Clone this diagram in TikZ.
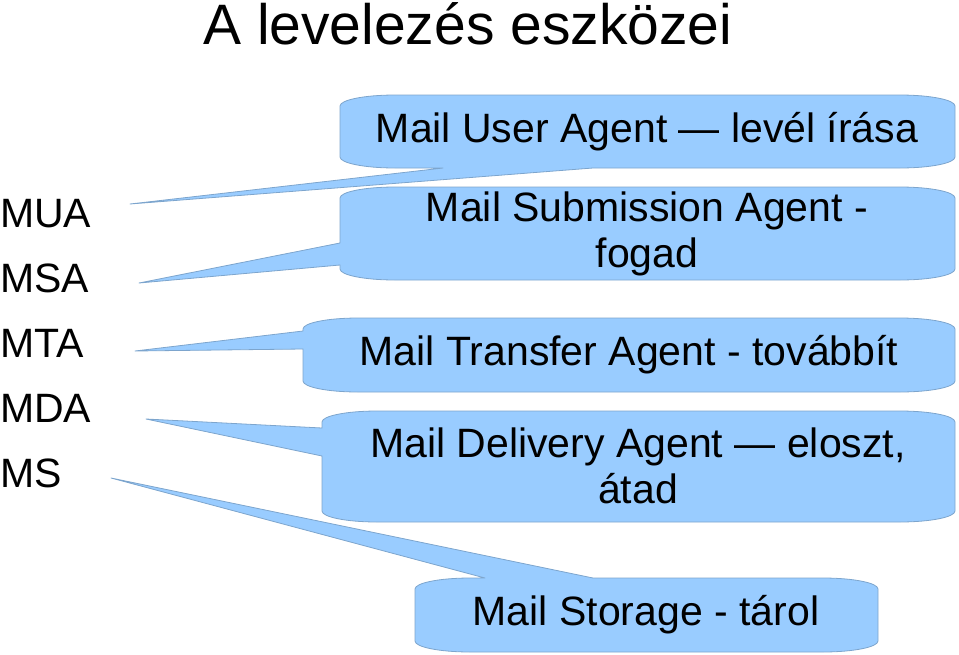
\documentclass[tikz,border=0pt]{standalone}
\usepackage{fontspec}
\setmainfont{Liberation Sans}
\definecolor{bubblefill}{RGB}{153,204,255}
\definecolor{bubbleline}{RGB}{125,165,205}

\begin{document}
\begin{tikzpicture}[x=1pt, y=1pt,
  bubble/.style={fill=bubblefill, draw=bubbleline, line width=0.8pt,
    line join=round, x radius=55pt, y radius=11pt},
  agentname/.style={anchor=base west, inner sep=0pt,
    font=\fontsize{41}{46}\selectfont},
  bubbletext/.style={align=center, inner sep=0pt,
    font=\fontsize{41}{46}\selectfont}]

\useasboundingbox (0,0) rectangle (959,-654);

% Title
\node[agentname, font=\fontsize{57}{64}\selectfont] (title) at (203,-44)
  {A levelezés eszközei};

% Names
\node[agentname] (mua) at (0,-227) {MUA};
\node[agentname] (msa) at (0,-292) {MSA};
\node[agentname] (mta) at (0,-357) {MTA};
\node[agentname] (mda) at (0,-422) {MDA};
\node[agentname] (ms)  at (0,-487) {MS};

% Callouts
\draw[bubble] (340,-106) arc[start angle=180, end angle=90]
  -- (900,-95) arc[start angle=90, end angle=0]
  -- (955,-157) arc[start angle=0, end angle=-90]
  -- (593,-168) -- (130,-204) -- (443,-168)
  -- (395,-168) arc[start angle=-90, end angle=-180] -- cycle;

\draw[bubble] (340,-198) arc[start angle=180, end angle=90]
  -- (900,-187) arc[start angle=90, end angle=0]
  -- (955,-269) arc[start angle=0, end angle=-90]
  -- (395,-280) arc[start angle=-90, end angle=-180]
  -- (340,-265) -- (139,-283) -- (340,-243) -- cycle;

\draw[bubble] (303,-331) -- (303,-329) arc[start angle=180, end angle=90]
  -- (900,-318) arc[start angle=90, end angle=0]
  -- (955,-381) arc[start angle=0, end angle=-90]
  -- (358,-392) arc[start angle=-90, end angle=-180]
  -- (303,-349) -- (135,-351) -- cycle;

\draw[bubble] (322,-428) -- (322,-422) arc[start angle=180, end angle=90]
  -- (900,-411) arc[start angle=90, end angle=0]
  -- (955,-511) arc[start angle=0, end angle=-90]
  -- (377,-522) arc[start angle=-90, end angle=-180]
  -- (322,-456) -- (146,-419) -- cycle;

\draw[bubble] (415,-589) arc[start angle=180, end angle=90]
  -- (485,-578) -- (111,-478) -- (593,-578)
  -- (823,-578) arc[start angle=90, end angle=0]
  -- (878,-641) arc[start angle=0, end angle=-90]
  -- (470,-652) arc[start angle=-90, end angle=-180] -- cycle;

% Texts
\node[bubbletext] (muatext) at (647,-132) {Mail User Agent — levél írása};
\node[bubbletext] (msatext) at (647,-234) {Mail Submission Agent -\\fogad};
\node[bubbletext] (mtatext) at (629,-355) {Mail Transfer Agent - továbbít};
\node[bubbletext] (mdatext) at (638,-466) {Mail Delivery Agent — eloszt,\\átad};
\node[bubbletext] (mstext)  at (646,-615) {Mail Storage - tárol};

\end{tikzpicture}
\end{document}
